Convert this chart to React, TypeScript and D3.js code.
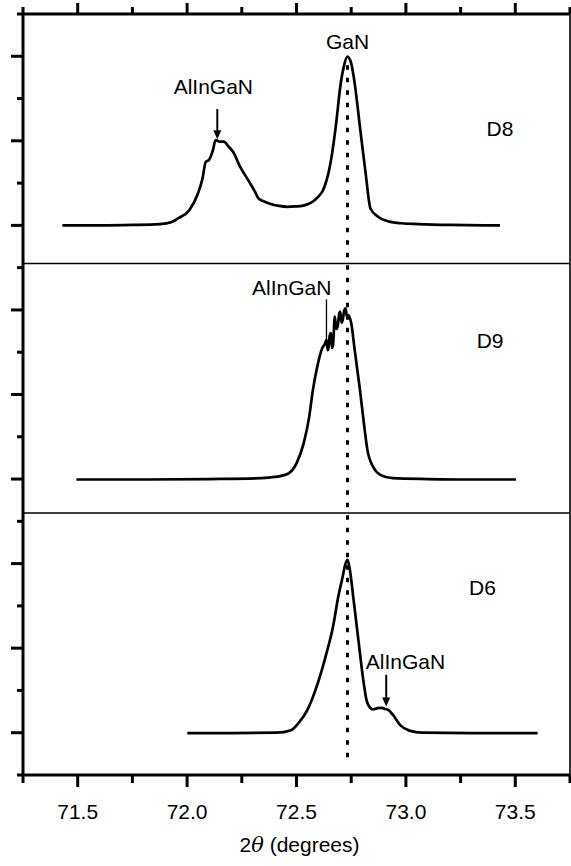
import React from 'react';
import * as d3 from 'd3';

const W = 571;
const H = 866;
const margin = { top: 14, right: 1, bottom: 91, left: 23 };

// axis setup
const xDomain = [71.25, 73.75];
const yDomain = [0, 18];
const xMajor = [71.5, 72.0, 72.5, 73.0, 73.5];
const xLabels = ['71.5', '72.0', '72.5', '73.0', '73.5'];
const xMinor = [71.25, 71.75, 72.25, 72.75, 73.25, 73.75];
const yMajor = [1, 3, 5, 7, 9, 11, 13, 15, 17];
const yMinor = [0, 2, 4, 6, 8, 10, 12, 14, 16, 18];
const dividers = [6.2, 12.1];
const ganLine = { x: 72.733, y0: 0.28, y1: 16.79 };

// sample D8 (offset 13)
const d8 = [
  [71.43, 13.0], [71.6, 13.0], [71.75, 13.01], [71.876, 13.03], [71.93, 13.08],
  [71.96, 13.17], [72.01, 13.36], [72.05, 13.76], [72.07, 14.1], [72.085, 14.5],
  [72.1, 14.55], [72.118, 14.78], [72.13, 15.02], [72.15, 14.98], [72.168, 14.98],
  [72.19, 14.86], [72.21, 14.74], [72.242, 14.39], [72.284, 14.03], [72.31, 13.8],
  [72.326, 13.64], [72.35, 13.57], [72.375, 13.52], [72.42, 13.46], [72.459, 13.44],
  [72.5, 13.45], [72.525, 13.46], [72.55, 13.5], [72.567, 13.54], [72.6, 13.68],
  [72.62, 13.82], [72.633, 13.99], [72.658, 14.55], [72.683, 15.49], [72.7, 16.28],
  [72.716, 16.75], [72.733, 16.99], [72.75, 16.83], [72.766, 16.36], [72.79, 15.33],
  [72.816, 14.23], [72.838, 13.4], [72.874, 13.2], [72.924, 13.09], [72.98, 13.05],
  [73.057, 13.03], [73.2, 13.01], [73.43, 13.0],
];

// sample D9 (offset 7)
const d9 = [
  [71.494, 6.99], [71.8, 6.99], [72.1, 7.0], [72.342, 7.02], [72.4, 7.05],
  [72.459, 7.12], [72.5, 7.37], [72.533, 7.85], [72.558, 8.47], [72.575, 9.11],
  [72.595, 9.66], [72.617, 10.09], [72.63, 10.2], [72.637, 10.29], [72.643, 10.05],
  [72.647, 10.13], [72.652, 10.4], [72.658, 10.45], [72.662, 10.1], [72.667, 10.17],
  [72.675, 10.84], [72.682, 10.55], [72.689, 10.64], [72.695, 10.9], [72.7, 10.96],
  [72.706, 10.7], [72.711, 10.76], [72.718, 10.98], [72.724, 11.04], [72.73, 10.85],
  [72.736, 10.88], [72.75, 10.69], [72.766, 10.05], [72.79, 9.11], [72.808, 8.32],
  [72.824, 7.69], [72.85, 7.29], [72.883, 7.1], [72.94, 7.02], [73.1, 7.0],
  [73.3, 6.99], [73.503, 6.99],
];

// sample D6 (offset 1)
const d6 = [
  [72.001, 0.99], [72.2, 0.99], [72.409, 1.0], [72.475, 1.06], [72.508, 1.22],
  [72.55, 1.54], [72.592, 2.09], [72.633, 2.8], [72.667, 3.51], [72.691, 4.22],
  [72.711, 4.69], [72.724, 5.0], [72.733, 5.09], [72.744, 4.85], [72.761, 4.14],
  [72.783, 3.19], [72.803, 2.33], [72.82, 1.77], [72.835, 1.6], [72.85, 1.55],
  [72.87, 1.58], [72.891, 1.59], [72.905, 1.56], [72.916, 1.55], [72.941, 1.42],
  [72.974, 1.18], [73.016, 1.05], [73.074, 1.0], [73.3, 0.99], [73.602, 0.99],
];

const labels = [
  { text: 'GaN', x: 72.733, y: 17.17 },
  { text: 'AlInGaN', x: 72.12, y: 16.11 },
  { text: 'D8', x: 73.43, y: 15.11 },
  { text: 'AlInGaN', x: 72.478, y: 11.35 },
  { text: 'D9', x: 73.385, y: 10.1 },
  { text: 'AlInGaN', x: 72.998, y: 2.51 },
  { text: 'D6', x: 73.35, y: 4.26 },
];

const arrows = [
  { x: 72.138, from: 15.75, to: 15.04, w: 2, head: true },
  { x: 72.637, from: 11.25, to: 10.29, w: 1.3, head: false },
  { x: 72.91, from: 2.37, to: 1.62, w: 2, head: true },
];

const font = '"Liberation Sans", Arial, sans-serif';

export default function App() {
  const x = d3.scaleLinear().domain(xDomain).range([margin.left, W - margin.right]);
  const y = d3.scaleLinear().domain(yDomain).range([H - margin.bottom, margin.top]);
  const line = d3.line<number[]>()
    .x(d => x(d[0]))
    .y(d => y(d[1]))
    .curve(d3.curveMonotoneX);

  const x0 = x(xDomain[0]);
  const x1 = x(xDomain[1]);
  const yTop = y(yDomain[1]);
  const yBot = y(yDomain[0]);

  return (
    <svg width={W} height={H} style={{ position: 'absolute', left: 0, top: 0 }}
      fontFamily={font}>
      <rect width={W} height={H} fill="#fff" />

      {/* panel dividers */}
      {dividers.map(v => (
        <line key={v} x1={x0} x2={x1} y1={y(v)} y2={y(v)} stroke="#000" strokeWidth={1.5} />
      ))}

      {/* GaN reference line */}
      <line x1={x(ganLine.x)} x2={x(ganLine.x)} y1={y(ganLine.y1)} y2={y(ganLine.y0)}
        stroke="#000" strokeWidth={3} strokeDasharray="4.5 8" />

      {[d8, d9, d6].map((s, i) => (
        <path key={i} d={line(s) || ''} fill="none" stroke="#000" strokeWidth={2.7}
          strokeLinejoin="round" />
      ))}

      {/* frame */}
      <line x1={x1} x2={x1} y1={yTop} y2={yBot} stroke="#000" strokeWidth={1.6} />
      <line x1={x0} x2={x1} y1={yTop} y2={yTop} stroke="#000" strokeWidth={3} />
      <line x1={x0} x2={x1} y1={yBot} y2={yBot} stroke="#000" strokeWidth={3} />
      <line x1={x0} x2={x0} y1={yTop} y2={yBot} stroke="#000" strokeWidth={3} />

      {xMajor.map(v => (
        <g key={v}>
          <line x1={x(v)} x2={x(v)} y1={yTop} y2={yTop - 11} stroke="#000" strokeWidth={3} />
          <line x1={x(v)} x2={x(v)} y1={yBot} y2={yBot + 12} stroke="#000" strokeWidth={3} />
        </g>
      ))}
      {xMinor.map(v => (
        <g key={v}>
          <line x1={x(v)} x2={x(v)} y1={yTop} y2={yTop - 7} stroke="#000" strokeWidth={3} />
          <line x1={x(v)} x2={x(v)} y1={yBot} y2={yBot + 8} stroke="#000" strokeWidth={3} />
        </g>
      ))}
      {yMajor.map(v => (
        <line key={v} x1={x0} x2={x0 - 12} y1={y(v)} y2={y(v)} stroke="#000" strokeWidth={3} />
      ))}
      {yMinor.map(v => (
        <line key={v} x1={x0} x2={x0 - 6} y1={y(v)} y2={y(v)} stroke="#000" strokeWidth={3} />
      ))}

      {xMajor.map((v, i) => (
        <text key={v} x={x(v)} y={yBot + 44} textAnchor="middle" fontSize={21}>
          {xLabels[i]}
        </text>
      ))}
      <text x={(x0 + x1) / 2 + 3} y={yBot + 77} textAnchor="middle" fontSize={21}>
        2<tspan fontStyle="italic" fontFamily='"DejaVu Serif", serif'>θ</tspan> (degrees)
      </text>

      {labels.map((l, i) => (
        <text key={i} x={x(l.x)} y={y(l.y)} textAnchor="middle" fontSize={21}>{l.text}</text>
      ))}

      {arrows.map((a, i) => (
        <g key={i}>
          <line x1={x(a.x)} x2={x(a.x)} y1={y(a.from)} y2={y(a.to) - (a.head ? 6 : 0)}
            stroke="#000" strokeWidth={a.w} />
          {a.head && (
            <path d={`M${x(a.x) - 4},${y(a.to) - 9} L${x(a.x) + 4},${y(a.to) - 9} L${x(a.x)},${y(a.to)} Z`}
              fill="#000" />
          )}
        </g>
      ))}
    </svg>
  );
}
